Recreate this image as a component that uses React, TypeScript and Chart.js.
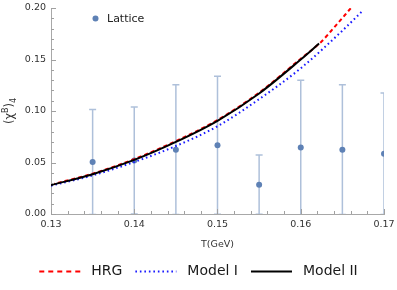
import React, { useEffect, useRef } from "react";
import { Chart, registerables } from "chart.js";

Chart.register(...registerables);

// ---- Data ----
const hrgT = [0.13, 0.135, 0.14, 0.145, 0.15, 0.155, 0.16, 0.1625, 0.164, 0.166];
const hrgV = [0.0285, 0.0392, 0.0533, 0.0708, 0.0913, 0.1178, 0.1508, 0.1675, 0.181, 0.1997];

const model1T = [0.13, 0.135, 0.14, 0.145, 0.15, 0.155, 0.16, 0.165, 0.1674];
const model1V = [0.0275, 0.0375, 0.0505, 0.066, 0.0852, 0.1115, 0.1415, 0.178, 0.197];

const model2T = [0.13, 0.135, 0.14, 0.145, 0.15, 0.155, 0.16, 0.1622];
const model2V = [0.028, 0.0386, 0.0525, 0.07, 0.0905, 0.117, 0.15, 0.1655];

const latticeT = [0.135, 0.14, 0.145, 0.15, 0.155, 0.16, 0.165, 0.17];
const latticeV = [0.0505, 0.052, 0.0625, 0.0667, 0.0285, 0.0645, 0.0625, 0.0585];
const latticeErr = [0.051, 0.052, 0.063, 0.067, 0.0287, 0.0653, 0.063, 0.059];

const xTickMin = 0.13;
const xTickMax = 0.17;
const yTickMin = 0;
const yTickMax = 0.2;

const seriesNames = ["HRG", "Model I", "Model II"];

const pointColor = "rgb(94,129,181)";
const errColor = "rgba(94,129,181,0.5)";
const FONT = "'DejaVu Sans', sans-serif";

const zip = (xs: number[], ys: number[]) => xs.map((x, i) => ({ x, y: ys[i] }));

const errorBarPlugin = {
  id: "errorBars",
  beforeDatasetsDraw(chart: any) {
    const { ctx, chartArea, scales } = chart;
    const xs = scales.x, ys = scales.y;
    ctx.save();
    ctx.beginPath();
    ctx.rect(chartArea.left, chartArea.top, chartArea.right - chartArea.left, chartArea.bottom - chartArea.top);
    ctx.clip();
    ctx.strokeStyle = errColor;
    ctx.lineWidth = 1.5;
    latticeT.forEach((t, i) => {
      const px = xs.getPixelForValue(t);
      const top = ys.getPixelForValue(latticeV[i] + latticeErr[i]);
      const bot = ys.getPixelForValue(latticeV[i] - latticeErr[i]);
      ctx.beginPath();
      ctx.moveTo(px, top);
      ctx.lineTo(px, bot);
      ctx.moveTo(px - 3.5, top);
      ctx.lineTo(px + 3.5, top);
      ctx.moveTo(px - 3.5, bot);
      ctx.lineTo(px + 3.5, bot);
      ctx.stroke();
    });
    ctx.restore();
  },
};

const extrasPlugin = {
  id: "extras",
  afterDraw(chart: any) {
    const { ctx, chartArea, scales } = chart;
    const xs = scales.x, ys = scales.y;
    ctx.save();
    // inner ticks
    ctx.strokeStyle = "#a0a0a0";
    ctx.lineWidth = 1;
    for (let k = 0; k <= 20; k++) {
      const v = xTickMin + k * 0.002;
      const px = Math.round(xs.getPixelForValue(v)) + 0.5;
      const len = k % 5 === 0 ? 5 : 3;
      ctx.beginPath();
      ctx.moveTo(px, chartArea.bottom);
      ctx.lineTo(px, chartArea.bottom - len);
      ctx.stroke();
    }
    for (let k = 0; k <= 20; k++) {
      const v = yTickMin + k * 0.01;
      const py = Math.round(ys.getPixelForValue(v)) + 0.5;
      const len = k % 5 === 0 ? 5 : 3;
      ctx.beginPath();
      ctx.moveTo(chartArea.left, py);
      ctx.lineTo(chartArea.left + len, py);
      ctx.stroke();
    }

    // x title
    ctx.fillStyle = "#333";
    ctx.font = `9.5px ${FONT}`;
    ctx.textAlign = "center";
    ctx.textBaseline = "middle";
    ctx.fillText("T(GeV)", (chartArea.left + chartArea.right) / 2, 245);

    // y title (χ^B)_4
    ctx.save();
    ctx.translate(10, 111);
    ctx.rotate(-Math.PI / 2);
    const big = `11.5px ${FONT}`;
    const small = `8px ${FONT}`;
    const parts = [
      { t: "(χ", f: big, dy: 0 },
      { t: "B", f: small, dy: -4.5 },
      { t: ")", f: big, dy: 0 },
      { t: "4", f: small, dy: 3.5 },
    ];
    let total = 0;
    parts.forEach((p) => { ctx.font = p.f; total += ctx.measureText(p.t).width; });
    let cx = -total / 2;
    ctx.textAlign = "left";
    parts.forEach((p) => {
      ctx.font = p.f;
      ctx.fillText(p.t, cx, p.dy);
      cx += ctx.measureText(p.t).width;
    });
    ctx.restore();

    // inset Lattice legend
    ctx.fillStyle = pointColor;
    ctx.beginPath();
    ctx.arc(95.5, 18.5, 3, 0, Math.PI * 2);
    ctx.fill();
    ctx.fillStyle = "#222";
    ctx.font = `11px ${FONT}`;
    ctx.textAlign = "left";
    ctx.textBaseline = "middle";
    ctx.fillText("Lattice", 107, 19);

    // bottom legend
    const styles = [
      { color: "#ff0000", dash: [5, 4] },
      { color: "#1a1aff", dash: [1.6, 2.9] },
      { color: "#000000", dash: [] as number[] },
    ];
    ctx.font = `14px ${FONT}`;
    const sample = 41, g1 = 11, g2 = 13;
    const widths = seriesNames.map((n) => ctx.measureText(n).width);
    let tot = 0;
    widths.forEach((w, i) => { tot += sample + g1 + w + (i < widths.length - 1 ? g2 : 0); });
    let lx = chart.width / 2 - tot / 2;
    const ly = 271.5;
    seriesNames.forEach((n, i) => {
      ctx.strokeStyle = styles[i].color;
      ctx.lineWidth = 2;
      ctx.setLineDash(styles[i].dash);
      ctx.beginPath();
      ctx.moveTo(lx, ly);
      ctx.lineTo(lx + sample, ly);
      ctx.stroke();
      ctx.setLineDash([]);
      lx += sample + g1;
      ctx.fillStyle = "#1a1a1a";
      ctx.fillText(n, lx, ly);
      lx += widths[i] + g2;
    });
    ctx.restore();
  },
};

export default function App() {
  const ref = useRef<HTMLCanvasElement | null>(null);
  useEffect(() => {
    if (!ref.current) return;
    const chart = new Chart(ref.current, {
      type: "scatter",
      data: {
        datasets: [
          {
            label: seriesNames[2],
            data: zip(model2T, model2V),
            showLine: true,
            borderColor: "#000",
            borderWidth: 2,
            pointRadius: 0,
            cubicInterpolationMode: "monotone",
          } as any,
          {
            label: seriesNames[1],
            data: zip(model1T, model1V),
            showLine: true,
            borderColor: "#1a1aff",
            borderWidth: 2,
            borderDash: [1.6, 2.9],
            pointRadius: 0,
            cubicInterpolationMode: "monotone",
          },
          {
            label: seriesNames[0],
            data: zip(hrgT, hrgV),
            showLine: true,
            borderColor: "#ff0000",
            borderWidth: 2,
            borderDash: [4, 3],
            pointRadius: 0,
            cubicInterpolationMode: "monotone",
          },
          {
            label: "Lattice",
            data: zip(latticeT, latticeV),
            showLine: false,
            pointRadius: 3,
            pointBackgroundColor: pointColor,
            pointBorderWidth: 0,
            clip: 0,
          } as any,
        ],
      },
      options: {
        responsive: false,
        animation: false,
        layout: { padding: { top: 8, right: 13, left: 0, bottom: 0 } },
        plugins: { legend: { display: false }, tooltip: { enabled: false } },
        scales: {
          x: {
            type: "linear",
            min: xTickMin,
            max: xTickMax,
            grid: { display: false, drawTicks: false },
            border: { display: true, color: "#a8a8a8", width: 1 },
            ticks: {
              stepSize: 0.01,
              padding: 5,
              color: "#333",
              font: { family: FONT, size: 9.5 },
              callback: (v: any) => Number(v).toFixed(2),
            },
            afterFit: (s: any) => { s.height = 76; s.paddingRight = 0; s.paddingLeft = 0; },
          },
          y: {
            type: "linear",
            min: yTickMin,
            max: yTickMax,
            grid: { display: false, drawTicks: false },
            border: { display: true, color: "#a8a8a8", width: 1 },
            ticks: {
              stepSize: 0.05,
              padding: 5,
              color: "#333",
              font: { family: FONT, size: 9.5 },
              callback: (v: any) => Number(v).toFixed(2),
            },
            afterFit: (s: any) => { s.width = 51; s.paddingTop = 0; s.paddingBottom = 0; },
          },
        },
      },
      plugins: [errorBarPlugin, extrasPlugin],
    });
    return () => chart.destroy();
  }, []);
  return (
    <div style={{ position: "fixed", left: 0, top: 0, width: 397, height: 290, background: "#fff" }}>
      <canvas ref={ref} width={397} height={290} />
    </div>
  );
}
